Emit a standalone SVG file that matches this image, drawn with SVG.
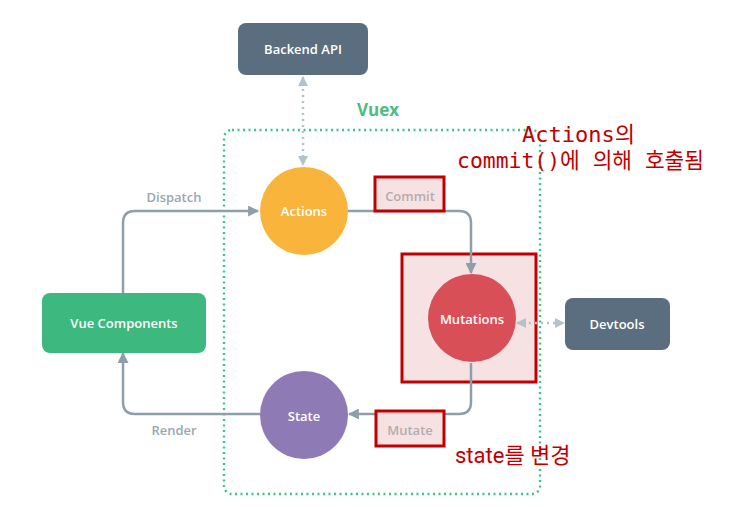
<svg xmlns="http://www.w3.org/2000/svg" width="732" height="507" viewBox="0 0 732 507">
  <style>
    .lbl { font-family: "Open Sans", "Liberation Sans", sans-serif; font-size: 13px; font-weight: 600; fill: #ffffff; text-anchor: middle; dominant-baseline: central; }
    .edge-lbl { font-family: "Open Sans", "Liberation Sans", sans-serif; font-size: 13px; font-weight: 600; fill: #9aa7af; text-anchor: middle; dominant-baseline: central; }
    .flow { fill: none; stroke: #8f9fa9; stroke-width: 2.5; }
    .dots { fill: none; stroke: #b3c2cb; stroke-width: 2.5; stroke-dasharray: 2 4; }
    .note { font-family: "DejaVu Sans Mono", "Noto Sans CJK KR", monospace; font-size: 22px; fill: #c00000; }
    .note2 { font-family: "Roboto", "Noto Sans CJK KR", sans-serif; font-size: 22px; fill: #c00000; }
    .hl { fill: #f7e2e3; stroke: #c00000; stroke-width: 3; }
  </style>
  <defs>
    <marker id="arr" viewBox="0 0 10 10" refX="9" refY="5" markerWidth="11" markerHeight="11" markerUnits="userSpaceOnUse" orient="auto-start-reverse">
      <path d="M0,0 L10,5 L0,10 z" fill="#8f9fa9"/>
    </marker>
    <marker id="arrl" viewBox="0 0 10 10" refX="9" refY="5" markerWidth="10" markerHeight="10" markerUnits="userSpaceOnUse" orient="auto-start-reverse">
      <path d="M0,0 L10,5 L0,10 z" fill="#b3c2cb"/>
    </marker>
  </defs>

  <rect width="732" height="507" fill="#ffffff"/>

  <!-- Vuex boundary -->
  <g id="vuex">
    <rect x="224" y="130" width="316" height="364" rx="8" fill="none" stroke="#3ec48a" stroke-width="2.4" stroke-dasharray="2 3.5"/>
    <text x="378" y="109" font-family="Open Sans, Liberation Sans, sans-serif" font-size="17" font-weight="700" fill="#4dbd82" text-anchor="middle" dominant-baseline="central">Vuex</text>
  </g>

  <!-- highlight boxes -->
  <g id="highlight-mutations">
    <rect class="hl" x="402" y="254" width="134" height="128"/>
  </g>

  <!-- connectors -->
  <g id="connectors">
    <path class="flow" d="M123,295 V223 Q123,211 135,211 H258" marker-end="url(#arr)"/>
    <path class="flow" d="M348,211 H459 Q471,211 471,223 V273" marker-end="url(#arr)"/>
    <path class="flow" d="M471,363 V402 Q471,414 459,414 H349" marker-end="url(#arr)"/>
    <path class="flow" d="M260,414 H135 Q123,414 123,402 V353" marker-end="url(#arr)"/>
    <path class="dots" d="M303,77 V165" marker-start="url(#arrl)" marker-end="url(#arrl)"/>
    <path class="dots" d="M517,323 H564" marker-start="url(#arrl)" marker-end="url(#arrl)"/>
    <text class="edge-lbl" x="174" y="197">Dispatch</text>
    <text class="edge-lbl" x="174" y="430">Render</text>
  </g>

  <g id="commit-label">
    <rect class="hl" x="375" y="177" width="69" height="34"/>
    <text class="edge-lbl" x="410" y="196" style="fill:#b5abac">Commit</text>
  </g>
  <g id="mutate-label">
    <rect class="hl" x="376" y="411" width="68" height="35"/>
    <text class="edge-lbl" x="410" y="430" style="fill:#b5abac">Mutate</text>
  </g>

  <!-- nodes -->
  <g id="backend-api">
    <rect x="238" y="23" width="130" height="52" rx="8" fill="#5b6e80"/>
    <text class="lbl" x="303" y="49">Backend API</text>
  </g>
  <g id="actions">
    <circle cx="304" cy="211" r="44" fill="#f9b53b"/>
    <text class="lbl" x="304" y="211">Actions</text>
  </g>
  <g id="mutations">
    <circle cx="472" cy="318" r="44" fill="#d84f58"/>
    <text class="lbl" x="472" y="319">Mutations</text>
  </g>
  <g id="devtools">
    <rect x="565" y="298" width="105" height="52" rx="8" fill="#5b6e80"/>
    <text class="lbl" x="617" y="324">Devtools</text>
  </g>
  <g id="vue-components">
    <rect x="42" y="293" width="164" height="60" rx="8" fill="#3db87f"/>
    <text class="lbl" x="124" y="323">Vue Components</text>
  </g>
  <g id="state">
    <circle cx="304" cy="415" r="44" fill="#8e7bb6"/>
    <text class="lbl" x="304" y="416">State</text>
  </g>

  <!-- annotations -->
  <g id="annotations">
    <text class="note" x="522" y="142">Actions의</text>
    <text class="note" x="457" y="168" textLength="247" lengthAdjust="spacingAndGlyphs">commit()에 의해 호출됨</text>
    <text class="note2" x="455" y="463">state를 변경</text>
  </g>
</svg>
